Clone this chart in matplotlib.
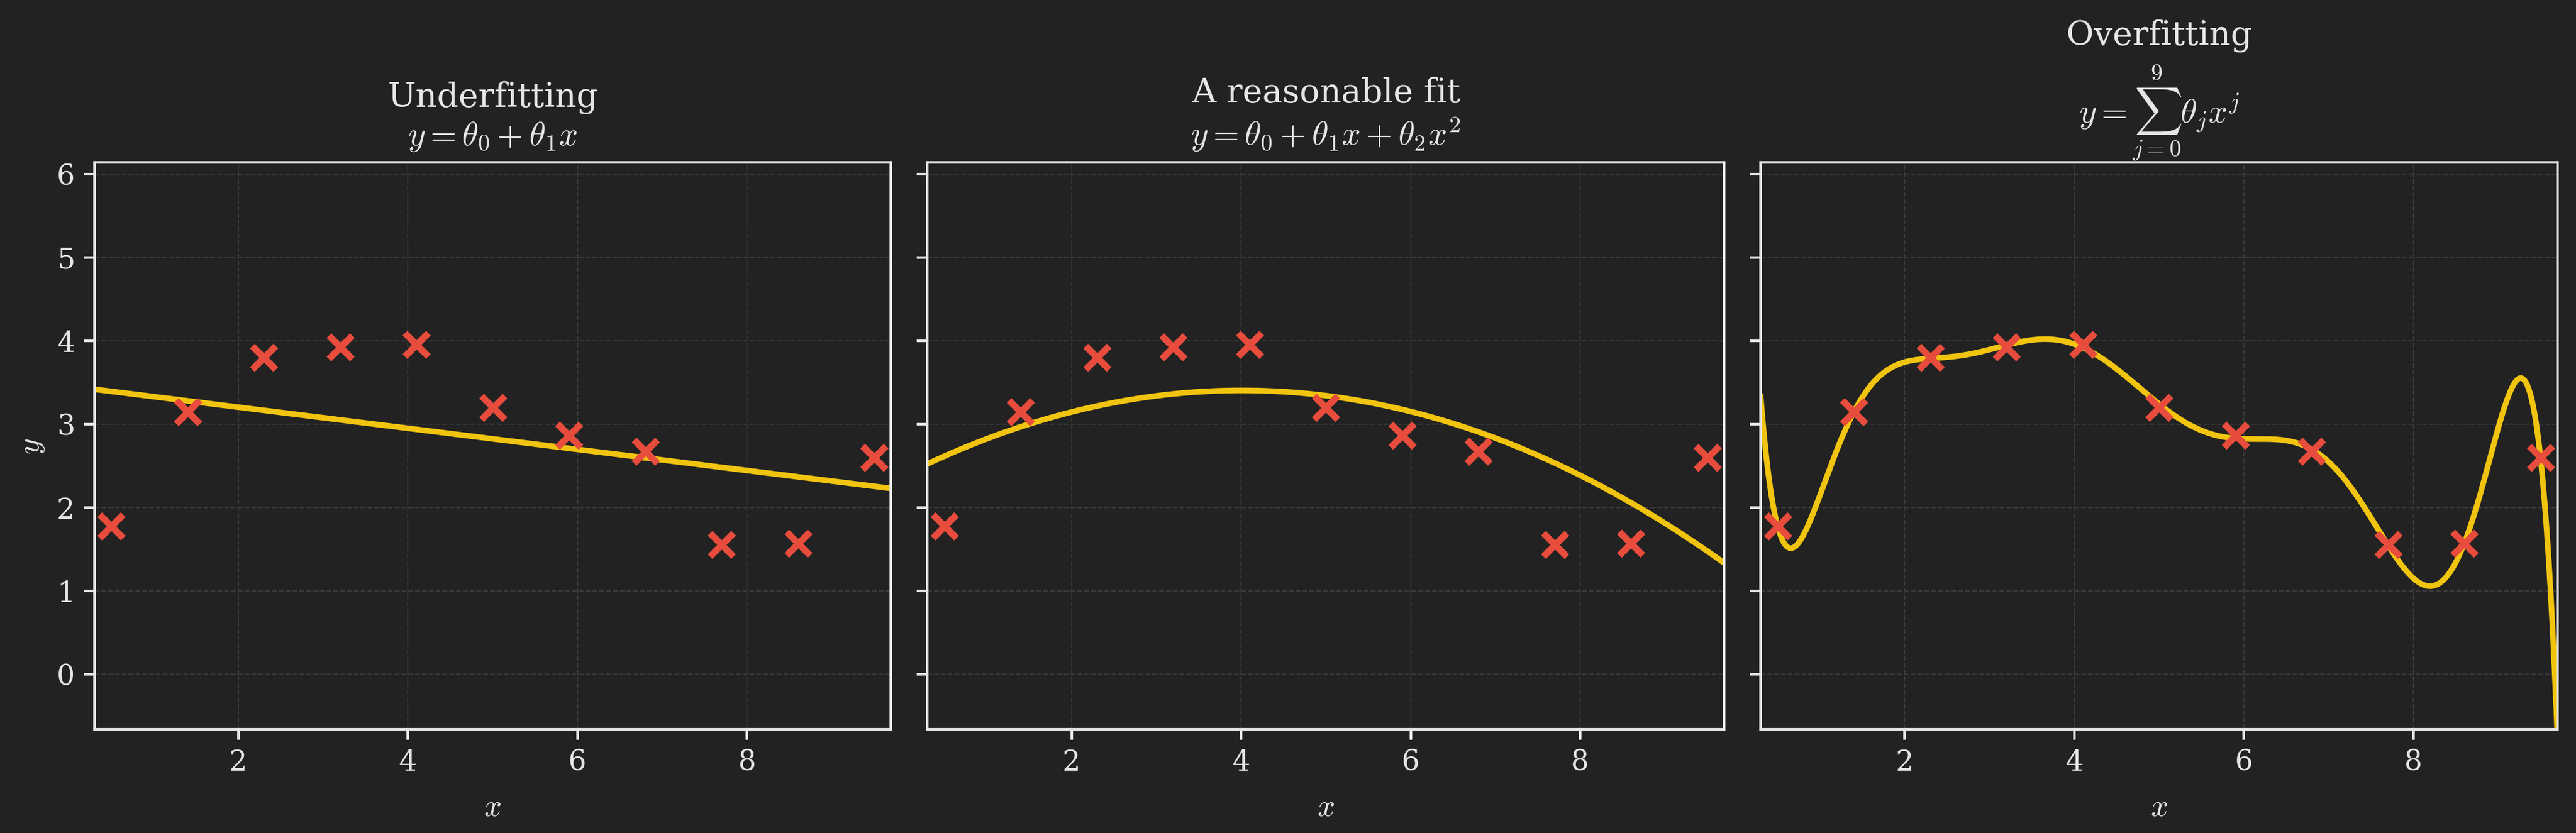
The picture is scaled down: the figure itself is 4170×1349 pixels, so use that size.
import numpy as np
import matplotlib
matplotlib.use("Agg")
import matplotlib.pyplot as plt

# ---- data ----
x_data = [0.5, 1.4, 2.3, 3.2, 4.1, 5.0, 5.9, 6.8, 7.7, 8.6, 9.5]
y_data = [1.78, 3.15, 3.80, 3.93, 3.96, 3.20, 2.87, 2.68, 1.56, 1.57, 2.60]
degrees = [1, 2, 9]
titles = ["Underfitting\n$y = \\theta_0 + \\theta_1 x$",
          "A reasonable fit\n$y = \\theta_0 + \\theta_1 x + \\theta_2 x^2$",
          "Overfitting\n$y = \\sum_{j=0}^{9} \\theta_j x^j$"]
x_ticks = [2, 4, 6, 8]
y_ticks = [0, 1, 2, 3, 4, 5, 6]

BG = "#222222"
FG = "#e6e6e6"
LINE = "#f1c40f"
MARK = "#e74c3c"

plt.rcParams.update({
    "font.family": "DejaVu Serif",
    "mathtext.fontset": "cm",
    "figure.facecolor": BG,
    "axes.facecolor": BG,
    "savefig.facecolor": BG,
    "text.color": FG,
    "axes.labelcolor": FG,
    "xtick.color": FG,
    "ytick.color": FG,
    "axes.edgecolor": FG,
})

fig, axes = plt.subplots(1, 3, figsize=(4170/300, 1349/300), dpi=300, sharey=True)
fig.subplots_adjust(left=0.0366, right=0.9928, bottom=0.1242, top=0.8047, wspace=0.0457)

xs = np.linspace(0.3, 9.7, 800)
xd = np.array(x_data)
yd = np.array(y_data)
for ax, deg, title in zip(axes, degrees, titles):
    coef = np.polyfit(xd, yd, deg)
    ax.plot(xs, np.polyval(coef, xs), color=LINE, lw=2.2, zorder=2)
    ax.plot(xd, yd, linestyle="none", marker="x", ms=9, mew=2.6, color=MARK, zorder=3)
    ax.set_title(title, fontsize=13, color=FG, pad=7)
    ax.set_xlim(0.3, 9.7)
    ax.set_ylim(-0.66, 6.14)
    ax.set_xticks(x_ticks)
    ax.set_yticks(y_ticks)
    ax.grid(True, linestyle="--", color="#3a3a3a", lw=0.5)
    ax.set_axisbelow(True)
    ax.tick_params(labelsize=11, width=1.0, length=4)
    for s in ax.spines.values():
        s.set_color(FG)
        s.set_linewidth(1.0)
    ax.set_xlabel("$x$", fontsize=12, labelpad=6)
axes[0].set_ylabel("$y$", fontsize=12)

fig.savefig("out.png", dpi=300)
